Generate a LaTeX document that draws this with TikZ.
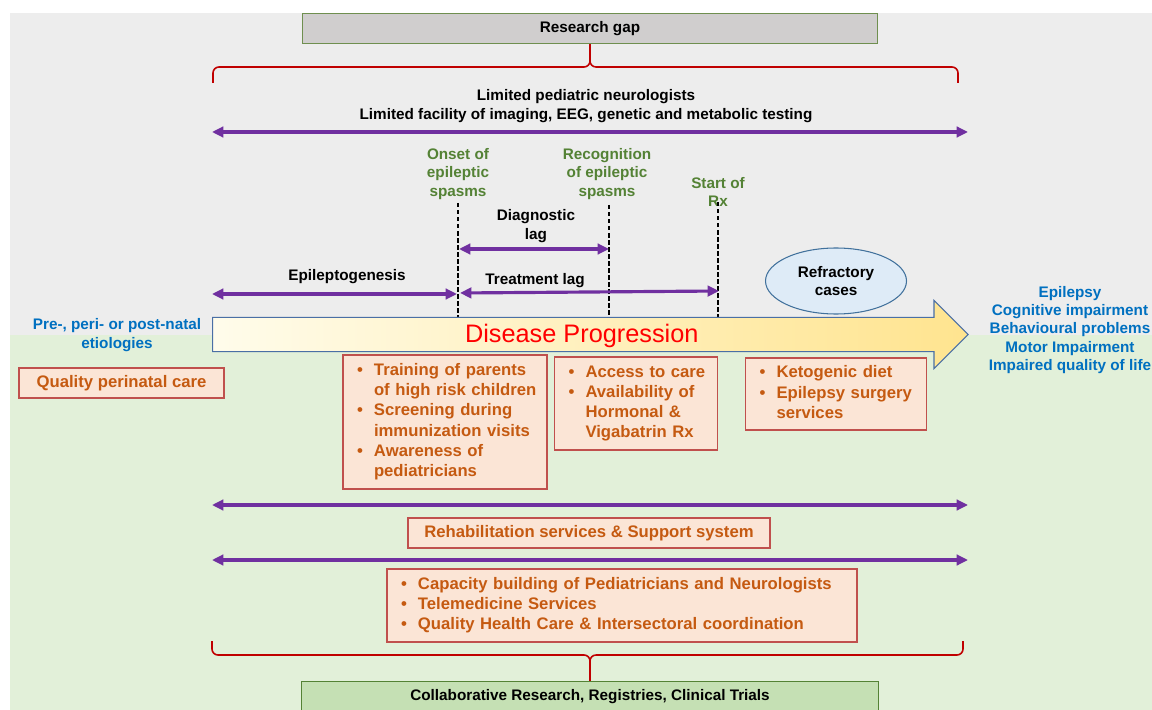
\documentclass[tikz,border=0pt]{standalone}
\usepackage{fontspec}
\setmainfont{Liberation Sans}
\usetikzlibrary{arrows.meta,shapes.geometric,shapes.arrows}
\definecolor{bggray}{HTML}{EDEDED}
\definecolor{bggreen}{HTML}{E2F0D9}
\definecolor{gapfill}{HTML}{D0CECE}
\definecolor{gapline}{HTML}{6F8F4F}
\definecolor{collabfill}{HTML}{C5E0B4}
\definecolor{collabline}{HTML}{548235}
\definecolor{bracered}{HTML}{C00000}
\definecolor{spanpurple}{HTML}{7030A0}
\definecolor{stagegreen}{HTML}{548235}
\definecolor{outblue}{HTML}{0070C0}
\definecolor{actfill}{HTML}{FBE5D6}
\definecolor{actline}{HTML}{C0504D}
\definecolor{acttext}{HTML}{C55A11}
\definecolor{ellfill}{HTML}{DEEBF7}
\definecolor{ellline}{HTML}{41719C}
\definecolor{progline}{HTML}{4A6FA5}
\definecolor{progleft}{HTML}{FFFCEB}
\definecolor{progright}{HTML}{FFE48F}
\newcommand{\labfont}{\bfseries\fontsize{8.7}{10.5}\selectfont}
\newcommand{\actfont}{\bfseries\fontsize{9.5}{11.4}\selectfont}
\tikzset{
  span/.style={spanpurple, line width=1.8pt, {Triangle[length=6.5pt,width=6pt]}-{Triangle[length=6.5pt,width=6pt]}},
  brace/.style={bracered, line width=0.9pt, rounded corners=1.2mm},
  lagline/.style={black, line width=1.1pt, dash pattern=on 2.5pt off 1.5pt},
  stage/.style={text=stagegreen, font=\labfont, align=center},
  plain/.style={text=black, font=\labfont, align=center},
  outcome/.style={text=outblue, font=\labfont, align=center},
  act/.style={draw=actline, line width=0.6pt, fill=actfill, text=acttext, font=\actfont, inner xsep=2.8mm, inner ysep=0pt, align=left}
}
\begin{document}
\begin{tikzpicture}[x=0.2mm,y=-0.2mm]
\useasboundingbox (0,0) rectangle (1152,710);
\fill[white] (0,0) rectangle (1152,710);
\fill[bggray] (10,13) rectangle (1152,335);
\fill[bggreen] (10,335) rectangle (1152,710);

\node[draw=gapline, line width=0.6pt, fill=gapfill, minimum width=115mm, minimum height=6mm, font=\labfont] (gap) at (590,28.5) {Research gap};
\draw[brace] (213,83) -- (213,67) -- (590,67) -- (gap.south);
\draw[brace] (958,83) -- (958,67) -- (590,67) -- (gap.south);
\node[plain] (limits) at (586,106) {Limited pediatric neurologists\\Limited facility of imaging, EEG, genetic and metabolic testing};
\coordinate (lim w) at (212,132);
\coordinate (lim e) at (968,132);
\draw[span] (lim w) -- (lim e);

\node[stage] (onset) at (458,174) {Onset of\\epileptic\\spasms};
\node[stage] (recog) at (607,174) {Recognition\\of epileptic\\spasms};
\node[stage] (startrx) at (718,192) {Start of\\Rx};
\coordinate (onset top) at (458,203);
\coordinate (onset low) at (458,318);
\coordinate (recog top) at (609,205);
\coordinate (recog low) at (609,318);
\coordinate (rx top) at (718,202);
\coordinate (rx low) at (718,318);
\draw[lagline] (onset top) -- (onset low);
\draw[lagline] (recog top) -- (recog low);
\draw[lagline] (rx top) -- (rx low);

\node[plain] (diaglag) at (536,226) {Diagnostic\\lag};
\coordinate (diag w) at (459,249);
\coordinate (diag e) at (609,249);
\draw[span] (diag w) -- (diag e);
\node[plain] (epigen) at (347,277) {Epileptogenesis};
\coordinate (epi w) at (212,294);
\coordinate (epi e) at (457,294);
\draw[span] (epi w) -- (epi e);
\node[plain] (treatlag) at (535,281) {Treatment lag};
\coordinate (treat w) at (460,293);
\coordinate (treat e) at (719,291);
\draw[span] (treat w) -- (treat e);

\node[ellipse, draw=ellline, line width=0.6pt, fill=ellfill, minimum width=28.2mm, minimum height=13.2mm, inner sep=0pt, font=\labfont, align=center] (refract) at (836,281) {Refractory\\cases};

\node[single arrow, draw=progline, line width=0.6pt, left color=progleft, right color=progright, minimum height=151.1mm, single arrow head extend=3.4mm, single arrow tip angle=90, inner xsep=0pt, inner ysep=0pt, text height=5mm, text depth=1.6mm, font=\fontsize{14.4}{17}\selectfont, text=red, anchor=tail] (prog) at (212,334.5) {Disease Progression};

\node[outcome] (etiol) at (117,335) {Pre-, peri- or post-natal\\etiologies};
\node[outcome] (outcomes) at (1070,330) {Epilepsy\\Cognitive impairment\\Behavioural problems\\Motor Impairment\\Impaired quality of life};

\node[act, align=center, minimum width=41mm, minimum height=6mm] (perinatal) at (121.5,383) {Quality perinatal care};
\node[act, text width=35.2mm, minimum height=26.8mm] (screen) at (445,422) {\begin{tabular}{@{}p{3.4mm}@{}l@{}}
\textbullet & Training of parents\\
 & of high risk children\\
\textbullet & Screening during\\
 & immunization visits\\
\textbullet & Awareness of\\
 & pediatricians
\end{tabular}};
\node[act, text width=27mm, minimum height=18.6mm] (access) at (636,403.5) {\begin{tabular}{@{}p{3.4mm}@{}l@{}}
\textbullet & Access to care\\
\textbullet & Availability of\\
 & Hormonal \&\\
 & Vigabatrin Rx
\end{tabular}};
\node[act, text width=30.6mm, minimum height=14.4mm] (keto) at (836,394) {\begin{tabular}{@{}p{3.4mm}@{}l@{}}
\textbullet & Ketogenic diet\\
\textbullet & Epilepsy surgery\\
 & services
\end{tabular}};

\coordinate (rehab w) at (212,505);
\coordinate (rehab e) at (968,505);
\draw[span] (rehab w) -- (rehab e);
\node[act, align=center, minimum width=72.4mm, minimum height=6mm] (rehab) at (589,533) {Rehabilitation services \& Support system};
\coordinate (system w) at (212,560);
\coordinate (system e) at (968,560);
\draw[span] (system w) -- (system e);
\node[act, text width=88.4mm, minimum height=14.6mm] (capacity) at (622,605.5) {\begin{tabular}{@{}p{3.4mm}@{}l@{}}
\textbullet & Capacity building of Pediatricians and Neurologists\\
\textbullet & Telemedicine Services\\
\textbullet & Quality Health Care \& Intersectoral coordination
\end{tabular}};

\node[draw=collabline, line width=0.6pt, fill=collabfill, minimum width=115.4mm, minimum height=6.2mm, font=\labfont] (collab) at (590,697) {Collaborative Research, Registries, Clinical Trials};
\draw[brace] (212,641) -- (212,655) -- (590,655) -- (collab.north);
\draw[brace] (963,641) -- (963,655) -- (590,655) -- (collab.north);
\end{tikzpicture}
\end{document}
